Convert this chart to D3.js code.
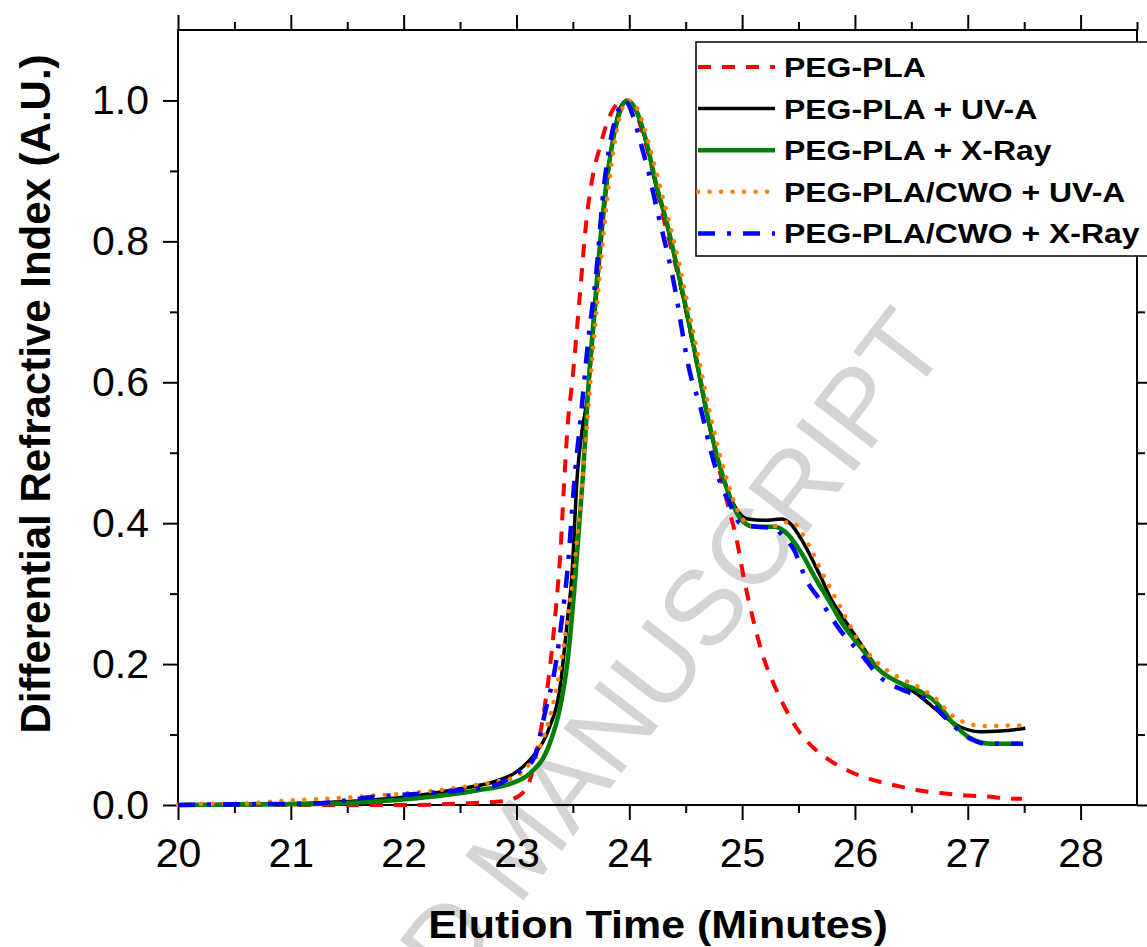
<!DOCTYPE html>
<html>
<head>
<meta charset="utf-8">
<script src="https://cdn.jsdelivr.net/npm/d3@7"></script>
<style>
  body { margin: 0; background: #fff; }
  text { font-family: Arial, "Liberation Sans", sans-serif; }
</style>
</head>
<body>
<div id="chart"></div>
<script>
// data: [elution time (min), dRI (A.U.)]
var pegPla = [[20,0],[21,0],[22,0],[22.5,0.002],[22.91,0.006],[23.08,0.021],[23.16,0.06],[23.22,0.11],[23.30,0.20],
  [23.35,0.28],[23.39,0.36],[23.42,0.45],[23.45,0.53],[23.50,0.61],[23.56,0.72],[23.62,0.83],
  [23.68,0.896],[23.74,0.934],[23.80,0.967],[23.89,0.995],[23.95,1.0],[24.05,0.985],[24.16,0.93],[24.3,0.835],
  [24.45,0.74],[24.6,0.626],[24.75,0.51],[24.88,0.422],[24.95,0.378],[25.02,0.318],[25.10,0.262],[25.18,0.214],
  [25.28,0.172],[25.38,0.138],[25.48,0.11],[25.59,0.088],[25.77,0.064],[25.95,0.048],[26.15,0.036],[26.35,0.028],
  [26.56,0.021],[26.76,0.017],[26.96,0.014],[27.17,0.012],[27.4,0.009],[27.48,0.009]];

var pegPlaUv = [[20,0],[20.5,0.001],[21,0.002],[21.5,0.005],[22,0.011],[22.5,0.023],[22.8,0.033],[23.0,0.047],
  [23.15,0.07],[23.28,0.105],[23.39,0.172],[23.45,0.26],[23.49,0.323],[23.54,0.47],[23.58,0.53],[23.63,0.58],
  [23.68,0.67],[23.74,0.78],[23.80,0.88],[23.86,0.95],[23.92,0.99],[23.98,1.0],[24.07,0.981],[24.16,0.934],
  [24.24,0.877],[24.33,0.826],[24.42,0.764],[24.51,0.697],[24.60,0.626],[24.69,0.553],[24.83,0.466],[24.95,0.42],
  [25.05,0.406],[25.2,0.404],[25.35,0.406],[25.43,0.399],[25.54,0.373],[25.69,0.326],[25.81,0.286],[25.87,0.272],
  [26.05,0.229],[26.22,0.191],[26.40,0.173],[26.58,0.154],[26.76,0.13],[26.93,0.111],[27.11,0.104],[27.29,0.105],
  [27.51,0.109]];

var pegPlaXray = [[20,0],[21,0.001],[21.5,0.003],[22.07,0.009],[22.66,0.021],[22.96,0.031],[23.12,0.045],[23.28,0.081],
  [23.39,0.141],[23.45,0.20],[23.52,0.32],[23.59,0.47],[23.64,0.60],[23.70,0.72],[23.76,0.83],[23.82,0.91],
  [23.90,0.975],[23.98,1.0],[24.07,0.983],[24.16,0.936],[24.24,0.88],[24.33,0.828],[24.42,0.766],[24.51,0.70],
  [24.60,0.628],[24.69,0.555],[24.83,0.466],[24.97,0.41],[25.1,0.395],[25.28,0.395],[25.38,0.388],[25.52,0.359],
  [25.66,0.319],[25.81,0.279],[25.87,0.262],[26.05,0.224],[26.22,0.191],[26.40,0.173],[26.58,0.161],[26.73,0.144],
  [26.87,0.116],[27.02,0.095],[27.2,0.087],[27.46,0.087]];

var cwoUv = [[20,0],[20.18,0.0015],[20.56,0.002],[20.95,0.006],[21.33,0.009],[21.70,0.013],[22.07,0.017],[22.45,0.024],
  [22.81,0.033],[22.96,0.038],[23.1,0.055],[23.25,0.10],[23.36,0.17],[23.44,0.25],[23.52,0.35],[23.59,0.47],
  [23.65,0.59],[23.72,0.72],[23.79,0.84],[23.86,0.93],[23.93,0.985],[23.99,1.0],[24.08,0.985],[24.17,0.94],
  [24.26,0.885],[24.35,0.83],[24.44,0.77],[24.53,0.70],[24.62,0.63],[24.71,0.56],[24.85,0.47],[24.97,0.415],
  [25.1,0.395],[25.25,0.395],[25.43,0.402],[25.6,0.366],[25.69,0.336],[25.87,0.281],[26.05,0.229],[26.22,0.199],
  [26.40,0.18],[26.58,0.166],[26.73,0.149],[26.84,0.13],[26.96,0.118],[27.14,0.112],[27.43,0.113],[27.5,0.113]];

var cwoXray = [[20,0],[20.5,0.001],[21.18,0.002],[21.77,0.012],[22.36,0.019],[22.81,0.028],[23.0,0.045],[23.15,0.065],
  [23.25,0.129],[23.35,0.202],[23.40,0.26],[23.45,0.33],[23.52,0.473],[23.57,0.55],[23.63,0.65],[23.71,0.76],
  [23.77,0.87],[23.83,0.94],[23.90,0.985],[23.96,1.0],[24.04,0.975],[24.10,0.94],[24.16,0.905],[24.24,0.849],
  [24.39,0.745],[24.54,0.612],[24.63,0.565],[24.72,0.504],[24.81,0.456],[24.89,0.428],[24.98,0.40],[25.13,0.395],
  [25.28,0.393],[25.37,0.38],[25.46,0.362],[25.57,0.319],[25.69,0.291],[25.87,0.248],[26.05,0.215],[26.22,0.182],
  [26.46,0.161],[26.64,0.149],[26.82,0.121],[26.99,0.097],[27.17,0.087],[27.49,0.087]];

var seriesNames = ["PEG-PLA", "PEG-PLA + UV-A", "PEG-PLA + X-Ray", "PEG-PLA/CWO + UV-A", "PEG-PLA/CWO + X-Ray"];
var seriesData = [pegPla, pegPlaUv, pegPlaXray, cwoUv, cwoXray];
var seriesColors = ["#ff0000", "#000000", "#008000", "#ff7f00", "#0000ff"];
var seriesDash = ["13,11", null, null, "0.1,11.4", "17,12,4,12"];
var seriesWidth = [4, 3.5, 4.5, 4.5, 4.5];

var xTicks = [20, 21, 22, 23, 24, 25, 26, 27, 28];
var yTicks = [0, 0.2, 0.4, 0.6, 0.8, 1.0];

// size and margins
var margin = { top: 30, right: 10, bottom: 142, left: 178 },
    width = 1147 - margin.left - margin.right,
    height = 947 - margin.top - margin.bottom;

var svgRoot = d3.select("#chart")
    .append("svg")
    .attr("width", 1147)
    .attr("height", 947);

// watermark first so everything else sits on top of it
svgRoot.append("text")
    .attr("transform", "translate(950,347) rotate(-52.4)")
    .attr("text-anchor", "end")
    .style("font-size", "107px")
    .style("fill", "#d4d4d4")
    .text("ACCEPTED MANUSCRIPT");

var svg = svgRoot.append("g")
    .attr("transform", "translate(" + margin.left + "," + margin.top + ")");

var x = d3.scaleLinear().domain([20, 28.5]).range([0, width]);
var y = d3.scaleLinear().domain([0, 1.1]).range([height, 0]);

// axes (major + minor ticks, pointing outwards)
var minorX = d3.range(20.5, 28.5, 1);
var minorY = d3.range(0.1, 1.1, 0.2);

function styleAxis(g) {
    g.select(".domain").remove();
    g.selectAll("line").attr("stroke", "#000").attr("stroke-width", 2);
    g.selectAll("text").style("font-size", "41px").attr("fill", "#000");
}

svg.append("g")
    .attr("transform", "translate(0," + height + ")")
    .call(d3.axisBottom(x).tickValues(xTicks).tickSize(15).tickFormat(d3.format("d")))
    .call(styleAxis)
    .selectAll("text").attr("y", 62).attr("dy", 0);
svg.append("g")
    .attr("transform", "translate(0," + height + ")")
    .call(d3.axisBottom(x).tickValues(minorX).tickSize(8).tickFormat(""))
    .call(styleAxis);

svg.append("g")
    .call(d3.axisLeft(y).tickValues(yTicks).tickSize(15).tickPadding(14).tickFormat(d3.format(".1f")))
    .call(styleAxis);
svg.append("g")
    .call(d3.axisLeft(y).tickValues(minorY).tickSize(8).tickFormat(""))
    .call(styleAxis);

svg.append("g")
    .call(d3.axisTop(x).tickValues(xTicks).tickSize(15).tickFormat(""))
    .call(styleAxis);
svg.append("g")
    .call(d3.axisTop(x).tickValues(minorX.concat([28.5])).tickSize(8).tickFormat(""))
    .call(styleAxis);

svg.append("g")
    .attr("transform", "translate(" + width + ",0)")
    .call(d3.axisRight(y).tickValues(yTicks).tickSize(15).tickFormat(""))
    .call(styleAxis);
svg.append("g")
    .attr("transform", "translate(" + width + ",0)")
    .call(d3.axisRight(y).tickValues(minorY).tickSize(8).tickFormat(""))
    .call(styleAxis);

// frame
svg.append("rect")
    .attr("width", width)
    .attr("height", height)
    .attr("fill", "none")
    .attr("stroke", "#000")
    .attr("stroke-width", 2);

// curves, in legend order
var line = d3.line()
    .x(function(d) { return x(d[0]); })
    .y(function(d) { return y(d[1]); })
    .curve(d3.curveMonotoneX);

seriesData.forEach(function(data, i) {
    svg.append("path")
        .datum(data)
        .attr("d", line)
        .attr("fill", "none")
        .attr("stroke", seriesColors[i])
        .attr("stroke-width", seriesWidth[i])
        .attr("stroke-dasharray", seriesDash[i])
        .attr("stroke-linecap", i === 3 ? "round" : "butt");
});

// legend (box runs past the right edge like the original)
var legend = svg.append("g").attr("transform", "translate(518,12)");
legend.append("rect")
    .attr("width", 500)
    .attr("height", 214)
    .attr("fill", "#fff")
    .attr("stroke", "#000")
    .attr("stroke-width", 1.5);

seriesNames.forEach(function(name, i) {
    var row = legend.append("g").attr("transform", "translate(0," + (25 + i * 41.6) + ")");
    row.append("line")
        .attr("x1", 2).attr("x2", 79)
        .attr("stroke", seriesColors[i])
        .attr("stroke-width", seriesWidth[i])
        .attr("stroke-dasharray", seriesDash[i])
        .attr("stroke-linecap", i === 3 ? "round" : "butt");
    row.append("text")
        .attr("transform", "translate(88,10) scale(1.14,1)")
        .style("font-size", "28px")
        .style("font-weight", "bold")
        .text(name);
});

// axis titles
svg.append("text")
    .attr("transform", "translate(" + (658 - margin.left) + "," + (938 - margin.top) + ") scale(1.13,1)")
    .style("text-anchor", "middle")
    .style("font-size", "38px")
    .style("font-weight", "bold")
    .text("Elution Time (Minutes)");

svg.append("text")
    .attr("transform", "rotate(-90)")
    .attr("x", -(394 - margin.top))
    .attr("y", 50 - margin.left)
    .style("text-anchor", "middle")
    .style("font-size", "42px")
    .style("font-weight", "bold")
    .text("Differential Refractive Index (A.U.)");
</script>
</body>
</html>
